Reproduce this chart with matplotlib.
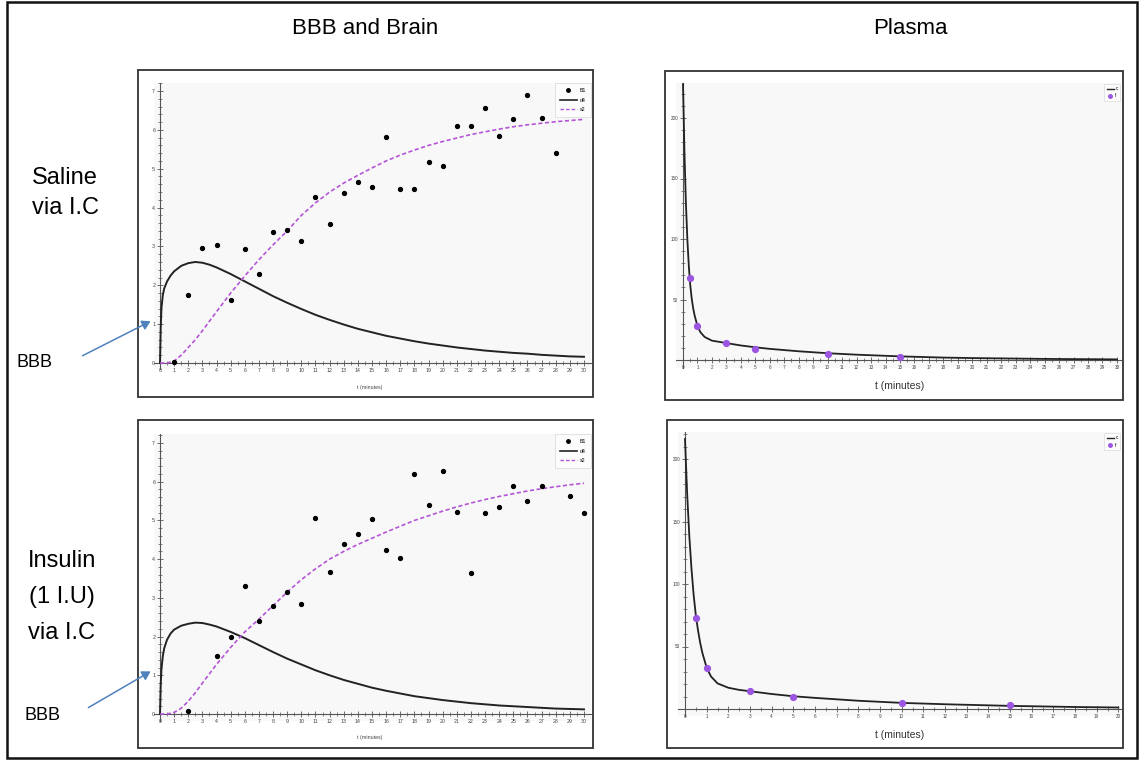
import matplotlib
matplotlib.use("Agg")
import matplotlib.pyplot as plt
from matplotlib.patches import Rectangle, FancyArrowPatch
from matplotlib.lines import Line2D
from matplotlib.ticker import MultipleLocator

plt.rcParams['font.family'] = ['Liberation Sans', 'DejaVu Sans']

# ---------------- data ----------------
col_titles = ["BBB and Brain", "Plasma"]
row1_label = ["Saline", "via I.C"]
row2_label = ["Insulin", "(1 I.U)", "via I.C"]
legend_left = ["B1", "d4", "s2"]
legend_right = ["c", "f"]

# Saline, BBB & brain
sal_pts_t = [1, 2, 3, 4, 5, 6, 7, 8, 9, 10, 11, 12, 13, 14, 15, 16, 17, 18, 19, 20,
             21, 22, 23, 24, 25, 26, 27, 28]
sal_pts_v = [0.02, 1.75, 2.95, 3.04, 1.63, 2.94, 2.29, 3.36, 3.41, 3.14, 4.28, 3.59,
             4.37, 4.66, 4.52, 5.82, 4.48, 4.49, 5.16, 5.08, 6.09, 6.11, 6.55, 5.84,
             6.29, 6.89, 6.31, 5.41]
sal_d4_t = [0, 0.05, 0.1, 0.2, 0.3, 0.5, 0.75, 1.0, 1.5, 2.0, 2.5, 3, 3.5, 4, 5, 6, 7,
            8, 9, 10, 11, 12, 13, 14, 15, 16, 17, 18, 19, 20, 21, 22, 23, 24, 25, 26,
            27, 28, 29, 30]
sal_d4_v = [0, 0.9, 1.4, 1.75, 1.92, 2.1, 2.25, 2.36, 2.5, 2.57, 2.6, 2.58, 2.53, 2.46,
            2.29, 2.1, 1.91, 1.72, 1.55, 1.39, 1.24, 1.11, 0.99, 0.88, 0.79, 0.70,
            0.63, 0.56, 0.50, 0.45, 0.40, 0.36, 0.32, 0.29, 0.26, 0.24, 0.21, 0.19,
            0.17, 0.16]
sal_s2_t = [0, 0.5, 1, 1.5, 2, 2.5, 3, 4, 5, 6, 7, 8, 9, 10, 11, 12, 13, 14, 15, 16,
            17, 18, 19, 20, 21, 22, 23, 24, 25, 26, 27, 28, 29, 30]
sal_s2_v = [0, 0.0, 0.05, 0.2, 0.4, 0.6, 0.83, 1.32, 1.8, 2.24, 2.66, 3.04, 3.4, 3.8,
            4.12, 4.4, 4.63, 4.83, 5.02, 5.2, 5.35, 5.48, 5.6, 5.7, 5.79, 5.88, 5.95,
            6.02, 6.08, 6.13, 6.17, 6.21, 6.24, 6.27]

# Insulin, BBB & brain
ins_pts_t = [2, 4, 5, 6, 7, 8, 9, 10, 11, 12, 13, 14, 15, 16, 17, 18, 19, 20, 21, 22,
             23, 24, 25, 26, 27, 29, 30]
ins_pts_v = [0.07, 1.5, 1.99, 3.31, 2.41, 2.8, 3.14, 2.83, 5.06, 3.67, 4.4, 4.66, 5.04,
             4.24, 4.02, 6.21, 5.39, 6.27, 5.22, 3.63, 5.2, 5.34, 5.9, 5.49, 5.88,
             5.64, 5.2]
ins_d4_t = sal_d4_t
ins_d4_v = [0, 0.75, 1.15, 1.5, 1.7, 1.92, 2.08, 2.18, 2.28, 2.33, 2.36, 2.35, 2.31,
            2.26, 2.12, 1.96, 1.78, 1.6, 1.43, 1.28, 1.13, 1.0, 0.88, 0.78, 0.68, 0.6,
            0.53, 0.46, 0.41, 0.36, 0.32, 0.28, 0.25, 0.22, 0.2, 0.18, 0.16, 0.14,
            0.13, 0.12]
ins_s2_t = sal_s2_t
ins_s2_v = [0, 0.0, 0.04, 0.15, 0.33, 0.55, 0.8, 1.28, 1.72, 2.12, 2.45, 2.8, 3.15,
            3.47, 3.75, 4.0, 4.2, 4.38, 4.54, 4.7, 4.85, 5.0, 5.12, 5.24, 5.35, 5.45,
            5.54, 5.62, 5.69, 5.76, 5.82, 5.87, 5.92, 5.96]

# Plasma
sal_pl_pts_t = [0.5, 1, 3, 5, 10, 15]
sal_pl_pts_v = [68, 28, 14, 9, 5, 2.5]
sal_pl_t = [0, 0.1, 0.2, 0.3, 0.4, 0.5, 0.6, 0.7, 0.8, 1.0, 1.2, 1.5, 2, 2.5, 3, 4, 5,
            6, 8, 10, 12, 15, 18, 20, 25, 30]
sal_pl_v = [228, 172, 130, 100, 78, 62, 51, 43, 37, 28, 23, 19, 16, 15, 14, 12, 10.5,
            9.2, 7.2, 5.6, 4.4, 3.0, 2.0, 1.6, 0.9, 0.5]

ins_pl_pts_t = [0.5, 1, 3, 5, 10, 15]
ins_pl_pts_v = [73, 32.5, 14.3, 9.5, 4.8, 3.0]
ins_pl_t = [0, 0.1, 0.2, 0.3, 0.4, 0.5, 0.6, 0.7, 0.8, 1.0, 1.2, 1.5, 2, 2.5, 3, 4, 5,
            6, 8, 10, 12, 15, 18, 20]
ins_pl_v = [216, 172, 138, 112, 91, 75, 63, 53, 45, 33, 26, 20.5, 17, 15.3, 14.2, 12,
            10.2, 8.9, 6.6, 4.9, 3.8, 2.5, 1.6, 1.2]

# ---------------- layout ----------------
W, H = 1144, 761
fig = plt.figure(figsize=(W / 100, H / 100), dpi=100)
fig.patch.set_facecolor('white')

PURPLE_LINE = '#b455d6'
PURPLE_PT = '#9b55e0'
GREY = '#555555'


def fx(px):
    return px / W


def fy(py):
    return 1 - py / H


def frame(l, t, r, b, lw=1.3, color='#333333'):
    fig.add_artist(Rectangle((fx(l), fy(b)), fx(r) - fx(l), fy(t) - fy(b),
                             transform=fig.transFigure, fill=False,
                             edgecolor=color, linewidth=lw))


def px_axes(box, xm, ym):
    l, t, r, b = box
    ax = fig.add_axes([fx(l), fy(b), fx(r) - fx(l), fy(t) - fy(b)])
    (v1, p1), (v2, p2) = xm
    s = (p2 - p1) / (v2 - v1)
    ax.set_xlim(v1 + (l - p1) / s, v1 + (r - p1) / s)
    (w1, q1), (w2, q2) = ym
    s = (q2 - q1) / (w2 - w1)
    ax.set_ylim(w1 + (b - q1) / s, w1 + (t - q1) / s)
    ax.set_facecolor('#f8f8f8')
    for sp in ['top', 'right']:
        ax.spines[sp].set_visible(False)
    for sp in ['left', 'bottom']:
        ax.spines[sp].set_position(('data', 0))
        ax.spines[sp].set_color(GREY)
        ax.spines[sp].set_linewidth(0.8)
    ax.tick_params(which='major', direction='inout', length=4, width=0.6,
                   color=GREY, labelsize=3.8, labelcolor='#444444', pad=1.5)
    ax.tick_params(which='minor', direction='inout', length=2.2, width=0.5,
                   color=GREY)
    return ax


# outer border
frame(7, 2, 1137, 758, lw=1.8, color='#111111')

# panel frames
frame(138, 70, 593, 397)
frame(665, 71, 1123, 400)
frame(138, 420, 593, 748)
frame(667, 420, 1123, 748)

# titles
fig.text(fx(365), fy(28), col_titles[0], fontsize=16, ha='center', va='center')
fig.text(fx(910), fy(28), col_titles[1], fontsize=16, ha='center', va='center')

# row labels
for txt, y in zip(row1_label, [178, 208]):
    fig.text(fx(65), fy(y), txt, fontsize=17, ha='center', va='center')
for txt, y in zip(row2_label, [561, 597, 633]):
    fig.text(fx(62), fy(y), txt, fontsize=17, ha='center', va='center')

# BBB annotations
fig.text(fx(17), fy(362), "BBB", fontsize=13, ha='left', va='center')
fig.text(fx(24), fy(716), "BBB", fontsize=13, ha='left', va='center')
for (x0, y0, x1, y1) in [(80, 357, 153, 320), (86, 709, 153, 670)]:
    fig.add_artist(FancyArrowPatch((fx(x0), fy(y0)), (fx(x1), fy(y1)),
                                   transform=fig.transFigure,
                                   arrowstyle='-|>,head_length=5,head_width=3',
                                   color='#4f81bd', linewidth=1.1, zorder=10))


def left_panel(box, ymap, pts_t, pts_v, d4_t, d4_v, s2_t, s2_v, xlab_y):
    ax = px_axes(box, ((0, 160), (30, 584)), ymap)
    ax.plot(d4_t, d4_v, color='#222222', lw=1.4, label=legend_left[1], zorder=3)
    ax.plot(s2_t, s2_v, color=PURPLE_LINE, lw=1.2, dashes=(2.5, 1.5),
            label=legend_left[2], zorder=3)
    ax.plot(pts_t, pts_v, 'o', color='black', ms=2.8, label=legend_left[0], zorder=4)
    ax.xaxis.set_major_locator(MultipleLocator(1))
    ax.xaxis.set_minor_locator(MultipleLocator(0.5))
    ax.yaxis.set_major_locator(MultipleLocator(1))
    ax.yaxis.set_minor_locator(MultipleLocator(0.2))
    ax.set_xticks(range(0, 31))
    ax.set_yticks(range(0, 8))
    h = [Line2D([], [], marker='o', ls='none', color='black', ms=2.5),
         Line2D([], [], color='#222222', lw=1.2),
         Line2D([], [], color=PURPLE_LINE, lw=1.0, dashes=(2.5, 1.5))]
    leg = ax.legend(h, legend_left, loc='upper right', fontsize=3.8, frameon=True,
                    fancybox=False, edgecolor='#dddddd', facecolor='#fcfcfc',
                    framealpha=1, borderaxespad=0, handlelength=3.2,
                    labelspacing=0.9, borderpad=0.9, handletextpad=0.6)
    leg.get_frame().set_linewidth(0.6)
    fig.text(fx(370), fy(xlab_y), "t (minutes)", fontsize=3.8, color='#444444',
             ha='center', va='center')
    return ax


left_panel((154, 83, 591, 369), ((0, 363), (7, 91)), sal_pts_t, sal_pts_v,
           sal_d4_t, sal_d4_v, sal_s2_t, sal_s2_v, 387)
left_panel((154, 434, 591, 721), ((0, 714), (7, 443)), ins_pts_t, ins_pts_v,
           ins_d4_t, ins_d4_v, ins_s2_t, ins_s2_v, 737)


def right_panel(box, xmap, ymap, c_t, c_v, p_t, p_v, xmax, xlab_y):
    ax = px_axes(box, xmap, ymap)
    ax.plot(c_t, c_v, color='#222222', lw=1.3, zorder=3)
    ax.plot(p_t, p_v, 'o', color=PURPLE_PT, ms=4.2, zorder=4)
    ax.set_xticks(range(0, xmax + 1))
    ax.xaxis.set_minor_locator(MultipleLocator(0.5))
    ax.set_yticks([50, 100, 150, 200])
    ax.yaxis.set_minor_locator(MultipleLocator(10))
    ax.tick_params(labelsize=3.3)
    h = [Line2D([], [], color='#222222', lw=1.0),
         Line2D([], [], marker='o', ls='none', color=PURPLE_PT, ms=2.5)]
    leg = ax.legend(h, legend_right, loc='upper right', fontsize=3.3, frameon=True,
                    fancybox=False, edgecolor='#e0e0e0', facecolor='#fcfcfc',
                    framealpha=1, borderaxespad=0.2, handlelength=1.5,
                    labelspacing=0.5, borderpad=0.5, handletextpad=0.4)
    leg.get_frame().set_linewidth(0.6)
    fig.text(fx(900), fy(xlab_y), "t (minutes)", fontsize=7.5, color='#333333',
             ha='center', va='center')
    return ax


right_panel((676, 83, 1121, 368), ((0, 683), (28, 1088)), ((0, 360), (200, 118)),
            sal_pl_t, sal_pl_v, sal_pl_pts_t, sal_pl_pts_v, 30, 386)
right_panel((678, 432, 1121, 716), ((0, 685), (15, 1010)), ((0, 709), (200, 459)),
            ins_pl_t, ins_pl_v, ins_pl_pts_t, ins_pl_pts_v, 20, 735)

fig.savefig('out.png', dpi=100)
